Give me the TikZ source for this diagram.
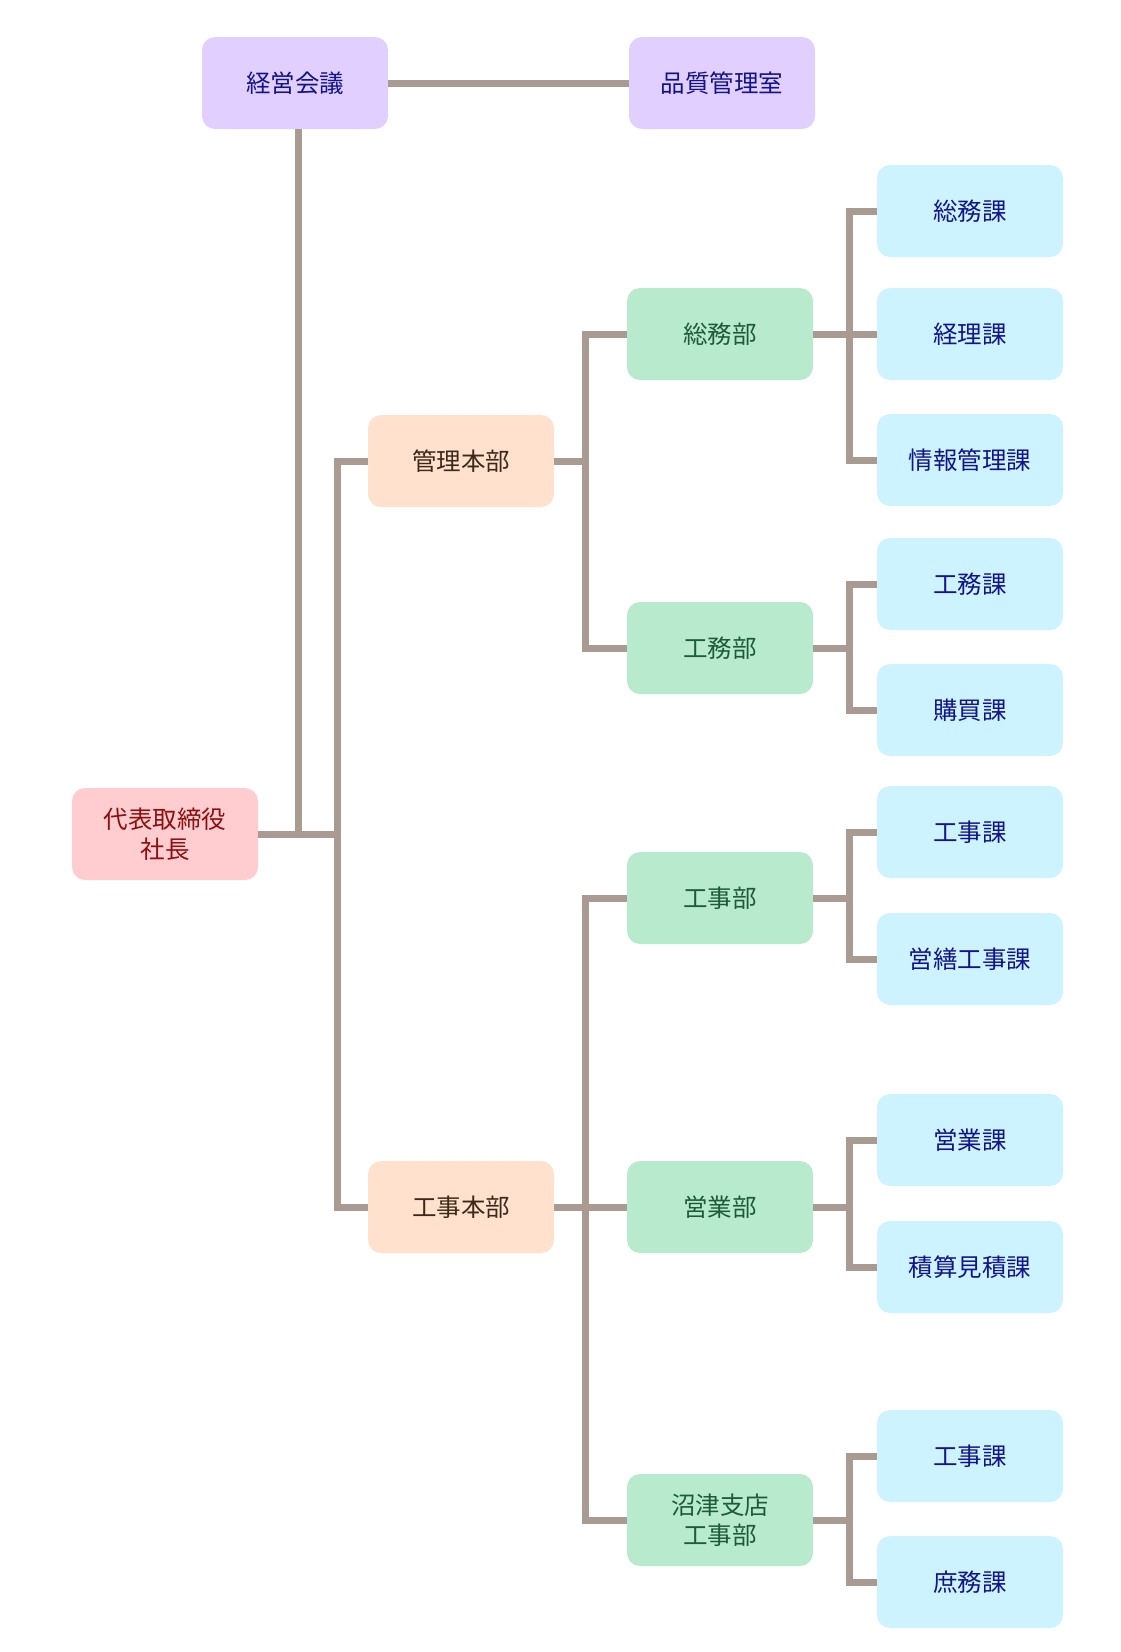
\documentclass[tikz,border=0pt]{standalone}
\usepackage{fontspec}
\setmainfont{Noto Sans CJK JP}
\usepackage{xcolor}
\usetikzlibrary{positioning}

\definecolor{linkgray}{HTML}{A99B91}
\definecolor{topfill}{HTML}{E0CFFF}
\definecolor{ceofill}{HTML}{FFCDD0}
\definecolor{hqfill}{HTML}{FFE1CD}
\definecolor{deptfill}{HTML}{B8EACD}
\definecolor{secfill}{HTML}{CCF3FF}
\definecolor{navytext}{HTML}{14148A}
\definecolor{redtext}{HTML}{8B1010}
\definecolor{browntext}{HTML}{3B2A1A}
\definecolor{greentext}{HTML}{1D5B3A}

\begin{document}
\begin{tikzpicture}[
      x=1pt, y=-1pt,
      unit/.style={rounded corners=13pt, minimum width=186pt, minimum height=92pt,
        align=center, font=\fontsize{24.5}{30}\selectfont, inner sep=0pt},
      board/.style={unit, fill=topfill, text=navytext},
      ceo/.style={unit, fill=ceofill, text=redtext},
      hq/.style={unit, fill=hqfill, text=browntext},
      dept/.style={unit, fill=deptfill, text=greentext},
      sect/.style={unit, fill=secfill, text=navytext},
      link/.style={draw=linkgray, line width=7pt}]
    \useasboundingbox (0,0) rectangle (1120,1652);

    % top row
    \node[board] (kaigi) at (295,83) {経営会議};
    \node[board] (hinshitsu) at (722,83) {品質管理室};

    % president and head offices
    \node[ceo] (shacho) at (165,834) {代表取締役\\社長};
    \node[hq] (kanri) at (461,461) {管理本部};
    \node[hq] (kouji) at (461,1207) {工事本部};

    % departments
    \node[dept] (soumubu) at (720,334) {総務部};
    \node[dept] (koumubu) at (720,648) {工務部};
    \node[dept] (koujibu) at (720,898) {工事部};
    \node[dept] (eigyobu) at (720,1207) {営業部};
    \node[dept] (numazu) at (720,1520) {沼津支店\\工事部};

    % sections
    \node[sect] (soumuka) at (970,211) {総務課};
    \node[sect] (keirika) at (970,334) {経理課};
    \node[sect] (johoka) at (970,460) {情報管理課};
    \node[sect] (koumuka) at (970,584) {工務課};
    \node[sect] (kobaika) at (970,710) {購買課};
    \node[sect] (koujika) at (970,832) {工事課};
    \node[sect] (eizenka) at (970,959) {営繕工事課};
    \node[sect] (eigyoka) at (970,1140) {営業課};
    \node[sect] (sekisanka) at (970,1267) {積算見積課};
    \node[sect] (numakouji) at (970,1456) {工事課};
    \node[sect] (shomuka) at (970,1582) {庶務課};

    % bus points
    \coordinate (hqbus) at (337,834);
    \coordinate (kaigidrop) at (298,834);
    \coordinate (kanribus) at (585,461);
    \coordinate (koujibus) at (585,1207);
    \coordinate (soumubus) at (849,334);
    \coordinate (koumubus) at (849,648);
    \coordinate (koujibubus) at (849,898);
    \coordinate (eigyobus) at (849,1207);
    \coordinate (numazubus) at (849,1520);

    % connectors
    \draw[link] (kaigi.east) -- (hinshitsu.west);
    \draw[link] (kaigi.south -| kaigidrop) -- (kaigidrop);
    \draw[link] (shacho.east) -- (hqbus);
    \draw[link] (kanri.west) -| (hqbus) |- (kouji.west);

    \draw[link] (kanri.east) -- (kanribus);
    \draw[link] (soumubu.west) -| (kanribus) |- (koumubu.west);
    \draw[link] (kouji.east) -- (eigyobu.west);
    \draw[link] (koujibu.west) -| (koujibus) |- (numazu.west);

    \draw[link] (soumubu.east) -- (keirika.west);
    \draw[link] (soumuka.west) -| (soumubus) |- (johoka.west);
    \draw[link] (koumubu.east) -- (koumubus);
    \draw[link] (koumuka.west) -| (koumubus) |- (kobaika.west);
    \draw[link] (koujibu.east) -- (koujibubus);
    \draw[link] (koujika.west) -| (koujibubus) |- (eizenka.west);
    \draw[link] (eigyobu.east) -- (eigyobus);
    \draw[link] (eigyoka.west) -| (eigyobus) |- (sekisanka.west);
    \draw[link] (numazu.east) -- (numazubus);
    \draw[link] (numakouji.west) -| (numazubus) |- (shomuka.west);
\end{tikzpicture}
\end{document}
